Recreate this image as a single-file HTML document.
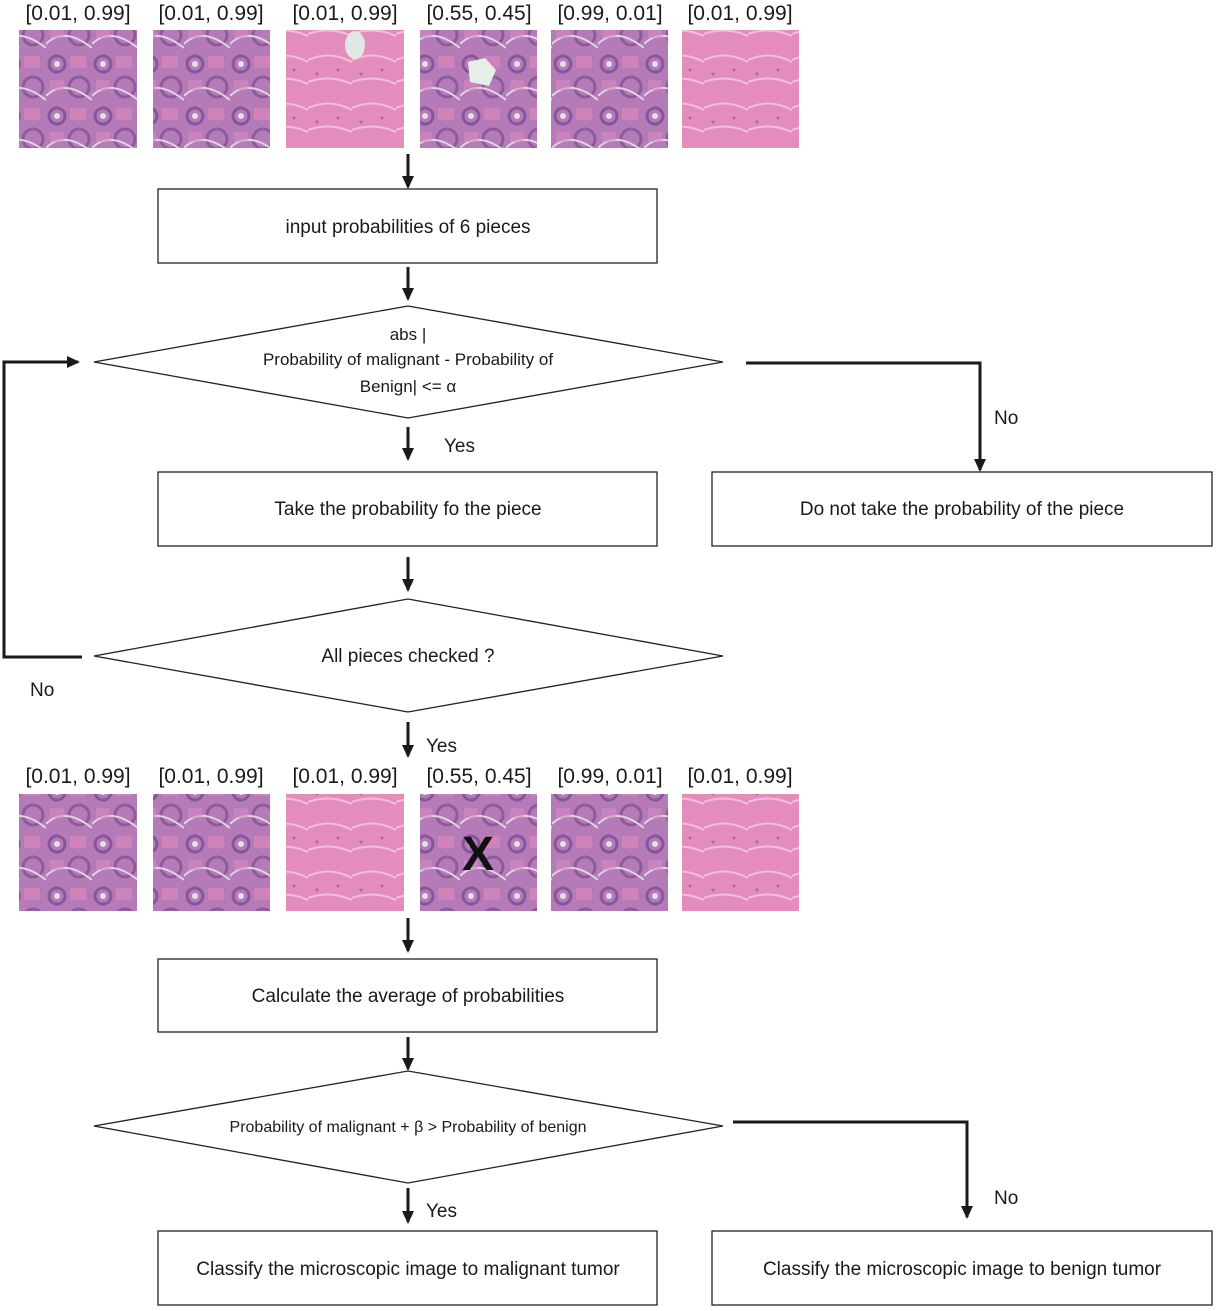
<!DOCTYPE html>
<html><head><meta charset="utf-8"><style>
html,body{margin:0;padding:0;background:#fff}
svg{display:block}
text{font-family:"Liberation Sans",sans-serif;fill:#1a1a1a}
</style></head><body>
<svg width="1219" height="1311" viewBox="0 0 1219 1311" xmlns="http://www.w3.org/2000/svg">
<defs>
<marker id="ah" markerWidth="14" markerHeight="14" refX="11" refY="7" orient="auto" markerUnits="userSpaceOnUse">
<path d="M0,1 L13,7 L0,13 z" fill="#1a1a1a"/></marker>
<pattern id="pp" width="46" height="52" patternUnits="userSpaceOnUse">
<rect width="46" height="52" fill="#b57ab8"/>
<circle cx="11" cy="12" r="8" fill="none" stroke="#86569a" stroke-width="3"/>
<circle cx="11" cy="12" r="3" fill="#e4e2e6"/>
<circle cx="33" cy="35" r="10" fill="none" stroke="#8e5a9c" stroke-width="3"/>
<path d="M0,44 Q18,26 46,48" stroke="#e0d4e4" stroke-width="2" fill="none"/>
<rect x="24" y="4" width="16" height="12" fill="#e08ab8" opacity=".6"/>
<rect x="4" y="28" width="14" height="10" fill="#d88ac0" opacity=".6"/>
</pattern>
<pattern id="pk" width="44" height="48" patternUnits="userSpaceOnUse">
<rect width="44" height="48" fill="#e48cbc"/>
<path d="M0,12 Q22,2 44,14 M0,34 Q22,26 44,36" stroke="#f0c0da" stroke-width="2" fill="none"/>
<circle cx="30" cy="22" r="1.5" fill="#a070aa"/>
<circle cx="9" cy="26" r="1.5" fill="#a070aa"/>
</pattern>
</defs>

<g font-size="21">
<text x="78" y="20" text-anchor="middle">[0.01, 0.99]</text>
<text x="211" y="20" text-anchor="middle">[0.01, 0.99]</text>
<text x="345" y="20" text-anchor="middle">[0.01, 0.99]</text>
<text x="479" y="20" text-anchor="middle">[0.55, 0.45]</text>
<text x="610" y="20" text-anchor="middle">[0.99, 0.01]</text>
<text x="740" y="20" text-anchor="middle">[0.01, 0.99]</text>
<text x="78" y="783" text-anchor="middle">[0.01, 0.99]</text>
<text x="211" y="783" text-anchor="middle">[0.01, 0.99]</text>
<text x="345" y="783" text-anchor="middle">[0.01, 0.99]</text>
<text x="479" y="783" text-anchor="middle">[0.55, 0.45]</text>
<text x="610" y="783" text-anchor="middle">[0.99, 0.01]</text>
<text x="740" y="783" text-anchor="middle">[0.01, 0.99]</text>
</g>

<g>
<rect x="19" y="30" width="118" height="118" fill="url(#pp)"/>
<rect x="153" y="30" width="117" height="118" fill="url(#pp)"/>
<rect x="286" y="30" width="118" height="118" fill="url(#pk)"/>
<ellipse cx="355" cy="45" rx="10" ry="14" fill="#dfe8e2"/>
<rect x="420" y="30" width="117" height="118" fill="url(#pp)"/>
<path d="M468,62 L485,58 L496,70 L489,86 L470,82 Z" fill="#e6eee8"/>
<rect x="551" y="30" width="117" height="118" fill="url(#pp)"/>
<rect x="682" y="30" width="117" height="118" fill="url(#pk)"/>

<rect x="19" y="794" width="118" height="117" fill="url(#pp)"/>
<rect x="153" y="794" width="117" height="117" fill="url(#pp)"/>
<rect x="286" y="794" width="118" height="117" fill="url(#pk)"/>
<rect x="420" y="794" width="117" height="117" fill="url(#pp)"/>
<text x="478" y="870" text-anchor="middle" font-size="48" font-weight="bold" style="fill:#111">X</text>
<rect x="551" y="794" width="117" height="117" fill="url(#pp)"/>
<rect x="682" y="794" width="117" height="117" fill="url(#pk)"/>
</g>

<g fill="#fff" stroke="#222" stroke-width="1.3">
<rect x="158" y="189" width="499" height="74"/>
<polygon points="94,362 408,306 723,362 408,418"/>
<rect x="158" y="472" width="499" height="74"/>
<rect x="712" y="472" width="500" height="74"/>
<polygon points="94,656 408,599 723,656 408,712"/>
<rect x="158" y="959" width="499" height="73"/>
<polygon points="94,1126 408,1071 723,1126 408,1183"/>
<rect x="158" y="1231" width="499" height="74"/>
<rect x="712" y="1231" width="500" height="74"/>
</g>

<g stroke="#1a1a1a" stroke-width="3" fill="none" marker-end="url(#ah)">
<line x1="408" y1="154" x2="408" y2="187"/>
<line x1="408" y1="267" x2="408" y2="299"/>
<line x1="408" y1="427" x2="408" y2="459"/>
<line x1="408" y1="557" x2="408" y2="590"/>
<line x1="408" y1="722" x2="408" y2="756"/>
<line x1="408" y1="918" x2="408" y2="951"/>
<line x1="408" y1="1037" x2="408" y2="1069"/>
<line x1="408" y1="1188" x2="408" y2="1222"/>
<polyline points="746,363 980,363 980,470"/>
<polyline points="82,657 4,657 4,362 78,362"/>
<polyline points="733,1122 967,1122 967,1217"/>
</g>

<g font-size="19" text-anchor="middle">
<text x="408" y="233">input probabilities of 6 pieces</text>
<text x="408" y="340" font-size="17">abs |</text>
<text x="408" y="365" font-size="17">Probability of malignant - Probability of</text>
<text x="408" y="392" font-size="17">Benign| &lt;= α</text>
<text x="408" y="515">Take the probability fo the piece</text>
<text x="962" y="515">Do not take the probability of the piece</text>
<text x="408" y="662">All pieces checked ?</text>
<text x="408" y="1002">Calculate the average of probabilities</text>
<text x="408" y="1132" font-size="16">Probability of malignant + β &gt; Probability of benign</text>
<text x="408" y="1275">Classify the microscopic image to malignant tumor</text>
<text x="962" y="1275">Classify the microscopic image to benign tumor</text>
</g>
<g font-size="19">
<text x="444" y="452">Yes</text>
<text x="994" y="424">No</text>
<text x="30" y="696">No</text>
<text x="426" y="752">Yes</text>
<text x="994" y="1204">No</text>
<text x="426" y="1217">Yes</text>
</g>
</svg>
</body></html>
